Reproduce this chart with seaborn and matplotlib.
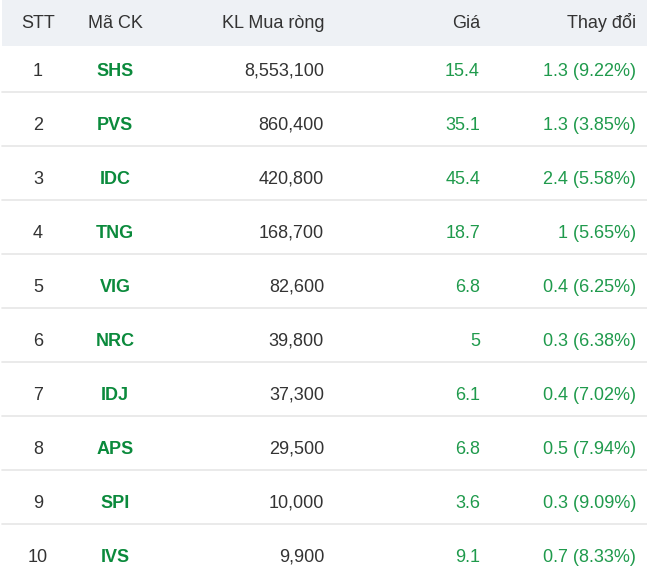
import numpy as np
import pandas as pd
import seaborn as sns
import matplotlib.pyplot as plt

# Table data
stt = [1, 2, 3, 4, 5, 6, 7, 8, 9, 10]
tickers = ["SHS", "PVS", "IDC", "TNG", "VIG", "NRC", "IDJ", "APS", "SPI", "IVS"]
volumes = [8553100, 860400, 420800, 168700, 82600, 39800, 37300, 29500, 10000, 9900]
prices = [15.4, 35.1, 45.4, 18.7, 6.8, 5, 6.1, 6.8, 3.6, 9.1]
changes = [1.3, 1.3, 2.4, 1, 0.4, 0.3, 0.4, 0.5, 0.3, 0.7]
change_pct = [9.22, 3.85, 5.58, 5.65, 6.25, 6.38, 7.02, 7.94, 9.09, 8.33]
headers = ["STT", "Mã CK", "KL Mua ròng", "Giá", "Thay đổi"]

df = pd.DataFrame({"STT": stt, "Mã CK": tickers, "KL Mua ròng": volumes,
                   "Giá": prices, "Thay đổi": changes, "pct": change_pct})


def fmt_num(v):
    return f"{v:g}"


# Set seaborn
sns.set_theme(style="white")
plt.rcParams['font.family'] = ['Liberation Sans', 'DejaVu Sans']

fig = plt.figure(figsize=(6.47, 5.77), dpi=100)
ax = fig.add_axes([0, 0, 1, 1])
ax.set_xlim(0, 647)
ax.set_ylim(577, 0)
ax.axis("off")

GRAY = "#333333"
GREEN_BOLD = "#0b8a3c"
GREEN = "#1f9a4c"
FS = 13

# Column layout: (x, ha)
cols = [(38, "center"), (115, "center"), (324, "right"), (480, "right"), (636, "right")]

# Header band
ax.fill_between([2, 647], 0, 46, color="#eef1f5", lw=0)
for (x, ha), h in zip(cols, headers):
    ax.text(x, 28.5, h, ha=ha, va="baseline", fontsize=FS, color=GRAY)

# Rows
row0, pitch = 69, 54
for i, r in df.iterrows():
    yc = row0 + pitch * i + 6.5
    vals = [
        (str(r["STT"]), GRAY, "normal"),
        (r["Mã CK"], GREEN_BOLD, "bold"),
        (f"{r['KL Mua ròng']:,}", GRAY, "normal"),
        (fmt_num(r["Giá"]), GREEN, "normal"),
        (f"{fmt_num(r['Thay đổi'])} ({r['pct']:.2f}%)", GREEN, "normal"),
    ]
    for (x, ha), (txt, clr, wt) in zip(cols, vals):
        ax.text(x, yc, txt, ha=ha, va="baseline", fontsize=FS,
                color=clr, fontweight=wt)
    if i < len(df) - 1:
        ax.plot([2, 647], [92 + pitch * i] * 2, color="#e6e6e6", lw=1.2)

fig.savefig("out.png", dpi=100)
